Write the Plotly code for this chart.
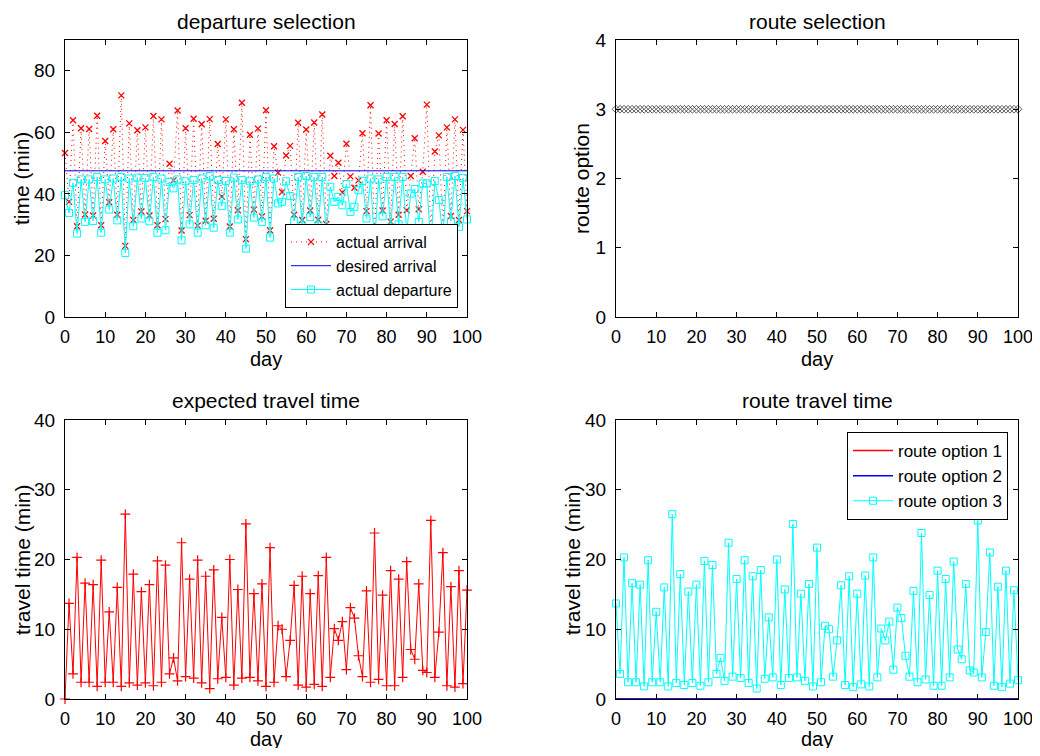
import plotly.graph_objects as go

DAYS = list(range(101))

DEPARTURE = [39.6, 33.8, 43.6, 27.1, 44.7, 30.9, 44.7, 31.2, 45.5, 27.4,
             44.7, 34.9, 45.0, 31.4, 45.5, 20.8, 45.0, 29.5, 45.3, 32.0,
             45.2, 31.1, 45.5, 27.4, 45.0, 28.2, 43.9, 41.8, 44.7, 24.9,
             44.1, 30.1, 44.5, 27.4, 45.0, 29.8, 45.8, 29.0, 44.5, 36.0,
             44.2, 27.4, 45.3, 31.7, 44.5, 22.2, 44.1, 32.3, 44.7, 30.9,
             45.5, 25.8, 45.0, 36.9, 37.4, 44.1, 39.3, 31.2, 45.5, 29.8,
             45.8, 32.5, 45.5, 29.8, 45.5, 27.1, 42.3, 37.4, 39.0, 36.3,
             43.2, 34.1, 35.8, 41.2, 44.2, 32.0, 45.0, 23.6, 44.7, 32.7,
             45.5, 29.1, 45.5, 30.1, 45.5, 27.6, 40.1, 41.6, 30.9, 43.4,
             43.4, 23.3, 44.2, 38.0, 26.3, 45.5, 31.1, 45.8, 29.3, 45.2,
             31.7]

ARRIVAL = [53.3, 37.4, 63.9, 29.5, 61.3, 33.3, 61.1, 33.0, 65.4, 29.8,
           57.2, 37.3, 61.0, 33.2, 72.0, 23.1, 62.9, 31.5, 60.7, 34.3,
           61.6, 33.0, 65.3, 29.8, 64.2, 31.8, 49.8, 44.4, 67.1, 28.1,
           61.3, 33.1, 64.4, 29.7, 62.6, 31.3, 64.3, 31.9, 56.2, 39.1,
           64.2, 29.4, 61.0, 34.7, 69.6, 25.3, 59.2, 34.9, 61.2, 32.7,
           67.2, 28.2, 55.5, 46.9, 40.6, 52.5, 55.6, 33.2, 63.1, 31.5,
           60.9, 34.6, 63.2, 31.6, 65.8, 30.2, 52.4, 45.8, 50.1, 40.5,
           56.3, 45.7, 42.0, 44.4, 59.7, 34.4, 68.8, 26.4, 59.6, 34.6,
           63.9, 31.0, 62.7, 33.2, 65.2, 34.7, 45.8, 58.1, 35.0, 47.2,
           69.0, 26.4, 53.8, 59.0, 28.2, 61.6, 32.8, 64.2, 31.5, 60.8,
           34.4]

DESIRED_ARRIVAL = 47.5

ROUTE_CHOICE = [3] * 101

EXPECTED_TT = [0.0, 13.7, 3.6, 20.3, 2.4, 16.6, 2.4, 16.4, 1.8, 19.9,
               2.4, 12.5, 2.4, 16.0, 1.8, 26.5, 2.3, 17.9, 2.0, 15.4,
               2.3, 16.4, 1.9, 19.8, 2.4, 19.2, 3.6, 5.9, 2.6, 22.4,
               3.2, 17.2, 3.0, 19.9, 2.3, 17.6, 1.5, 18.5, 2.9, 11.7,
               3.1, 20.0, 2.0, 15.7, 3.0, 25.1, 3.1, 15.1, 2.6, 16.5,
               1.8, 21.7, 2.4, 10.5, 10.0, 3.2, 8.4, 16.3, 2.0, 17.6,
               1.7, 15.1, 2.1, 17.7, 1.8, 20.3, 3.1, 10.1, 8.4, 11.1,
               4.2, 13.1, 11.6, 6.2, 3.2, 15.5, 2.4, 23.8, 2.8, 14.9,
               1.9, 18.4, 1.9, 17.2, 3.1, 19.7, 7.1, 5.7, 16.5, 4.1,
               3.8, 25.6, 3.1, 9.6, 21.0, 1.9, 16.1, 1.7, 18.4, 2.2,
               15.6]

ROUTE3_TT = [13.7, 3.6, 20.3, 2.4, 16.6, 2.4, 16.4, 1.8, 19.9, 2.4,
             12.5, 2.4, 16.0, 1.8, 26.5, 2.3, 17.9, 2.0, 15.4, 2.3,
             16.4, 1.9, 19.8, 2.4, 19.2, 3.6, 5.9, 2.6, 22.4, 3.2,
             17.2, 3.0, 19.9, 2.3, 17.6, 1.5, 18.5, 2.9, 11.7, 3.1,
             20.0, 2.0, 15.7, 3.0, 25.1, 3.1, 15.1, 2.6, 16.5, 1.8,
             21.7, 2.4, 10.5, 10.0, 3.2, 8.4, 16.3, 2.0, 17.6, 1.7,
             15.1, 2.1, 17.7, 1.8, 20.3, 3.1, 10.1, 8.4, 11.1, 4.2,
             13.1, 11.6, 6.2, 3.2, 15.5, 2.4, 23.8, 2.8, 14.9, 1.9,
             18.4, 1.9, 17.2, 3.1, 19.7, 7.1, 5.7, 16.5, 4.1, 3.8,
             25.6, 3.1, 9.6, 21.0, 1.9, 16.1, 1.7, 18.4, 2.2, 15.6,
             2.7]
ROUTE1_TT = [0] * 101
ROUTE2_TT = [0] * 101

# The page body has an 8px margin, so the figure is drawn 8px in from the
# window's corner; it is sized so the page exactly fills the window.
OFF = 8
W, H = 1040 - 2 * OFF, 756 - 2 * OFF
FONT = "Liberation Sans, Arial, Helvetica, sans-serif"


def px(X):
    return (X - OFF) / W


def py(Y):
    return 1 - (Y - OFF) / H


def xd(a, b):
    return [px(a), px(b)]


def yd(top, bottom):
    return [py(bottom), py(top)]


fig = go.Figure()

# top-left: departure selection
fig.add_trace(go.Scatter(x=DAYS, y=ARRIVAL, mode="lines+markers", name="actual arrival",
                         line=dict(color="red", width=1, dash="1px,4px"),
                         marker=dict(symbol="x-thin", size=6, line=dict(color="red", width=1.3)),
                         xaxis="x", yaxis="y", legend="legend", cliponaxis=False))
fig.add_trace(go.Scatter(x=[0, 100], y=[DESIRED_ARRIVAL, DESIRED_ARRIVAL], mode="lines",
                         name="desired arrival", line=dict(color="blue", width=1),
                         xaxis="x", yaxis="y", legend="legend"))
fig.add_trace(go.Scatter(x=DAYS, y=DEPARTURE, mode="lines+markers", name="actual departure",
                         line=dict(color="cyan", width=1),
                         marker=dict(symbol="square-open", size=7, color="cyan", line=dict(width=1)),
                         xaxis="x", yaxis="y", legend="legend", cliponaxis=False))

# top-right: route selection
fig.add_trace(go.Scatter(x=DAYS, y=ROUTE_CHOICE, mode="markers", showlegend=False,
                         marker=dict(symbol="diamond-open", size=6, color="#333333",
                                     line=dict(width=0.8)),
                         xaxis="x2", yaxis="y2", cliponaxis=False))

# bottom-left: expected travel time
fig.add_trace(go.Scatter(x=DAYS, y=EXPECTED_TT, mode="lines+markers", showlegend=False,
                         line=dict(color="red", width=1),
                         marker=dict(symbol="cross-thin", size=7, line=dict(color="red", width=1.2)),
                         xaxis="x3", yaxis="y3", cliponaxis=False))

# bottom-right: route travel time
fig.add_trace(go.Scatter(x=DAYS, y=ROUTE1_TT, mode="lines", name="route option 1",
                         line=dict(color="red", width=1.5),
                         xaxis="x4", yaxis="y4", legend="legend2", cliponaxis=False))
fig.add_trace(go.Scatter(x=DAYS, y=ROUTE2_TT, mode="lines", name="route option 2",
                         line=dict(color="blue", width=1.5),
                         xaxis="x4", yaxis="y4", legend="legend2", cliponaxis=False))
fig.add_trace(go.Scatter(x=DAYS, y=ROUTE3_TT, mode="lines+markers", name="route option 3",
                         line=dict(color="cyan", width=1),
                         marker=dict(symbol="square-open", size=7, color="cyan", line=dict(width=1)),
                         xaxis="x4", yaxis="y4", legend="legend2", cliponaxis=False))

axis_common = dict(showline=True, linecolor="black", linewidth=1, mirror="ticks",
                   ticks="inside", ticklen=5, tickcolor="black", showgrid=False,
                   zeroline=False, automargin=False, ticklabeloverflow="allow")

xcommon = dict(axis_common, range=[0, 100], tick0=0, dtick=10, ticklabelstandoff=3,
               tickfont=dict(size=18, color="black", family=FONT))
ycommon = dict(axis_common, ticklabelstandoff=5,
               tickfont=dict(size=19, color="black", family=FONT))

fig.update_layout(
    width=W, height=H, autosize=False,
    margin=dict(l=0, r=0, t=0, b=0, pad=0),
    paper_bgcolor="white", plot_bgcolor="white",
    font=dict(family=FONT, color="black"),
    xaxis=dict(xcommon, domain=xd(65, 467), anchor="y"),
    yaxis=dict(ycommon, domain=yd(40, 317), range=[0, 90], tick0=0, dtick=20, anchor="x"),
    xaxis2=dict(xcommon, domain=xd(616, 1018), anchor="y2"),
    yaxis2=dict(ycommon, domain=yd(40, 317), range=[0, 4], tick0=0, dtick=1, anchor="x2"),
    xaxis3=dict(xcommon, domain=xd(65, 467), anchor="y3"),
    yaxis3=dict(ycommon, domain=yd(420, 699), range=[0, 40], tick0=0, dtick=10, anchor="x3"),
    xaxis4=dict(xcommon, domain=xd(616, 1018), anchor="y4"),
    yaxis4=dict(ycommon, domain=yd(420, 699), range=[0, 40], tick0=0, dtick=10, anchor="x4"),
    legend=dict(x=px(458), y=py(308), xanchor="right", yanchor="bottom",
                bgcolor="white", bordercolor="black", borderwidth=1,
                font=dict(size=16, family=FONT, color="black"), tracegroupgap=0,
                itemwidth=40),
    legend2=dict(x=px(1008), y=py(432), xanchor="right", yanchor="top",
                 bgcolor="white", bordercolor="black", borderwidth=1,
                 font=dict(size=17, family=FONT, color="black"), tracegroupgap=0,
                 itemwidth=40),
)

ann = []


def text(x, y, s, angle=0, size=21):
    ann.append(dict(x=px(x), y=py(y), xref="paper", yref="paper", text=s,
                    showarrow=False, textangle=angle, xanchor="center", yanchor="middle",
                    font=dict(size=size, family=FONT, color="black")))


text(266, 21, "departure selection")
text(817, 21, "route selection")
text(266, 400, "expected travel time")
text(817, 400, "route travel time")
text(266, 359, "day", size=20)
text(817, 359, "day", size=20)
text(266, 739, "day", size=20)
text(817, 739, "day", size=20)
text(22, 179, "time (min)", -90)
text(582, 179, "route option", -90)
text(22, 560, "travel time (min)", -90)
text(572, 560, "travel time (min)", -90)
fig.update_layout(annotations=ann)

fig.write_html("out.html")
